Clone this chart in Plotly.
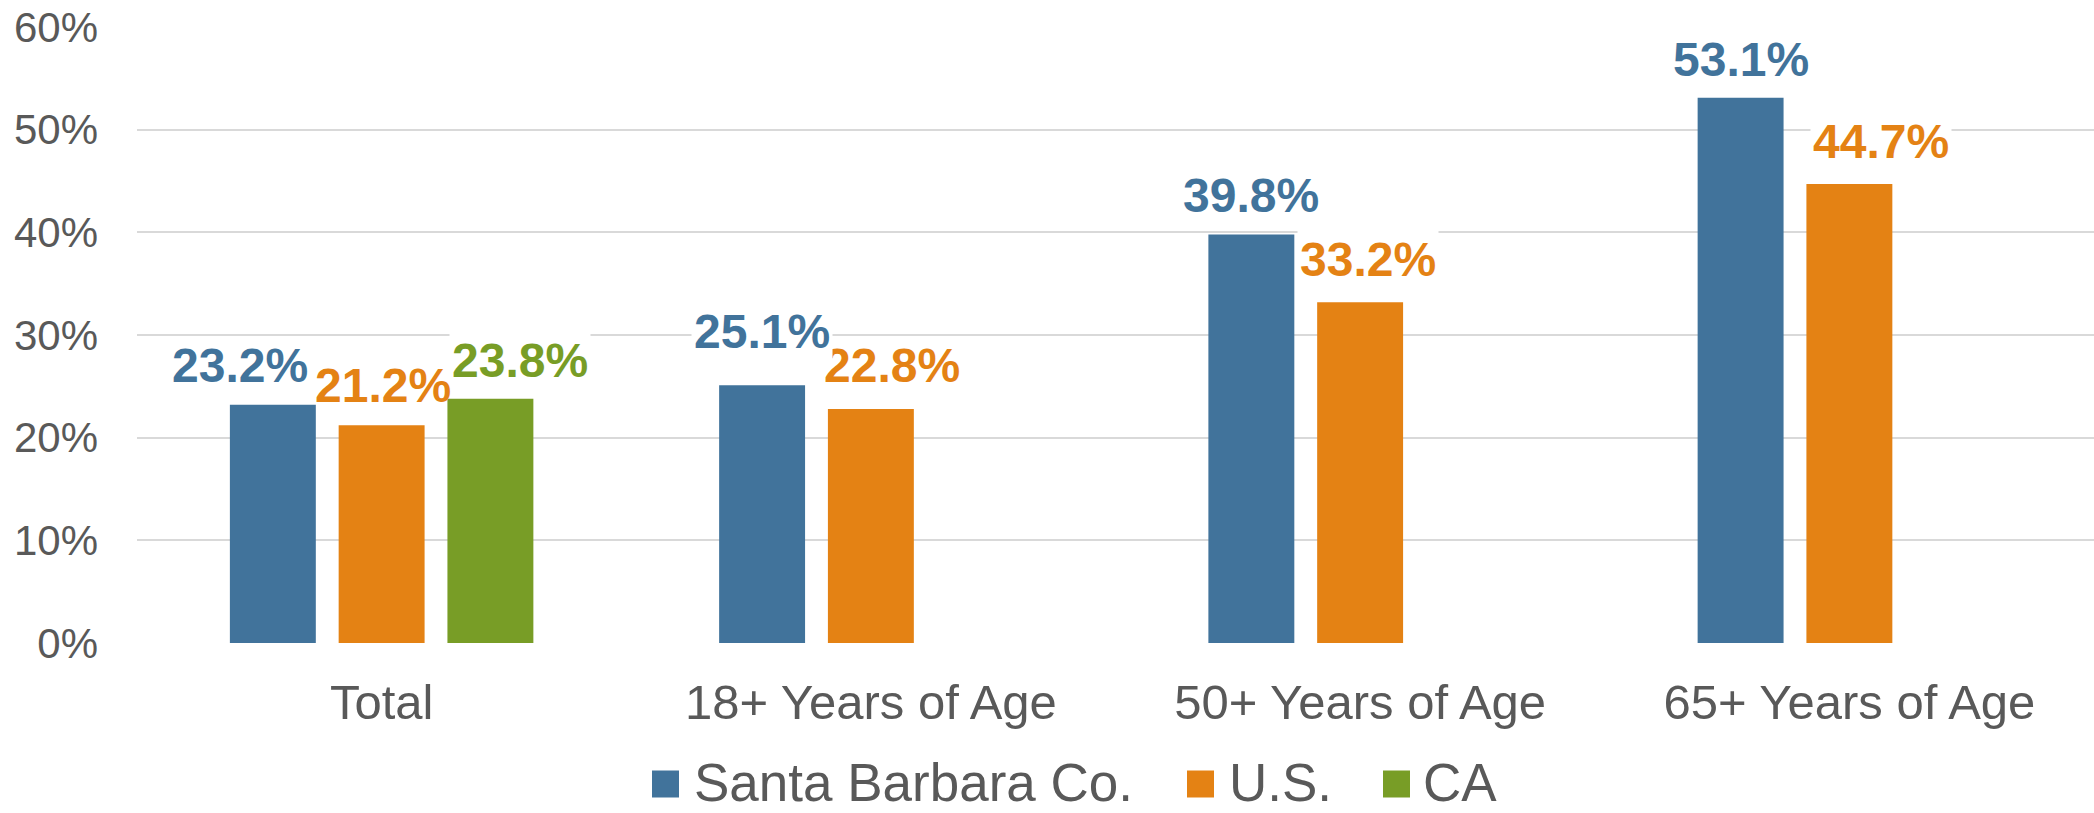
import plotly.graph_objects as go

# ---------------- data ----------------
categories = ["Total", "18+ Years of Age", "50+ Years of Age", "65+ Years of Age"]
series_names = ["Santa Barbara Co.", "U.S.", "CA"]
santa_barbara = [23.2, 25.1, 39.8, 53.1]
us_values = [21.2, 22.8, 33.2, 44.7]
ca_values = [23.8, None, None, None]
y_ticks = [0, 10, 20, 30, 40, 50, 60]

# ---------------- style ----------------
W, H = 2094, 813
M_L, M_R, M_T, M_B = 137, 0, 27, 170
colors = ["#41739B", "#E48214", "#789D26"]
grey = "#595959"
font_family = "Arial, Liberation Sans, sans-serif"
BARGAP, GROUPGAP = 0.333, 0.21

# label offsets (pixels): horizontal shift from bar centre, gap of baseline above bar top
label_dx = [[-33, 1, 30], [0, 21, 0], [0, 8, 0], [0, 32, 0]]
label_gap = [[22, 23, 21], [36, 26, 0], [22, 25, 0], [21, 25, 0]]
# whether a label carries a white box behind it
label_box = [[True, False, True], [True, True, True], [True, True, True], [True, True, True]]

series_values = [santa_barbara, us_values, ca_values]

fig = go.Figure()
for name, vals, col in zip(series_names, series_values, colors):
    fig.add_trace(go.Bar(x=categories, y=vals, name=name, marker=dict(color=col, line=dict(width=0)),
                         showlegend=False, hoverinfo="x+y"))

plot_w = W - M_L - M_R
plot_h = H - M_T - M_B
cat_w = plot_w / len(categories)
pitch = cat_w * (1 - BARGAP) / len(series_names)

LFS = 48
PAD = 2
descent = 0.212 * LFS
annotations = []
# draw later series first so the first series' labels sit on top
for si in reversed(range(len(series_values))):
    vals, col = series_values[si], colors[si]
    for ci, v in enumerate(vals):
        if v is None:
            continue
        annotations.append(dict(
            x=categories[ci], y=v, xref="x", yref="y",
            text=f"<b>{v:.1f}%</b>", showarrow=False,
            font=dict(family=font_family, size=LFS, color=col),
            bgcolor="white" if label_box[ci][si] else "rgba(0,0,0,0)", borderpad=PAD,
            xanchor="center", yanchor="bottom",
            xshift=(si - 1) * pitch + label_dx[ci][si],
            yshift=label_gap[ci][si] - PAD - descent,
        ))

# custom legend (large swatches)
def px_to_paper_x(px):
    return (px - M_L) / plot_w

def px_to_paper_y(py):
    return (H - M_B - py) / plot_h

legend_sq_x = [652, 1187, 1383]
legend_txt_x = [693, 1228, 1422]
legend_mid = 784
shapes = []
for name, col, sx, tx in zip(series_names, colors, legend_sq_x, legend_txt_x):
    shapes.append(dict(type="rect", xref="paper", yref="paper",
                       x0=px_to_paper_x(sx), x1=px_to_paper_x(sx + 27),
                       y0=px_to_paper_y(legend_mid + 13.5), y1=px_to_paper_y(legend_mid - 13.5),
                       fillcolor=col, line=dict(width=0), layer="above"))
    annotations.append(dict(x=px_to_paper_x(tx), y=px_to_paper_y(legend_mid - 2), xref="paper", yref="paper",
                            text=name, showarrow=False, xanchor="left", yanchor="middle",
                            font=dict(family=font_family, size=53, color=grey), borderpad=0))

fig.update_layout(
    width=W, height=H,
    margin=dict(l=M_L, r=M_R, t=M_T, b=M_B, autoexpand=False),
    paper_bgcolor="white", plot_bgcolor="white",
    barmode="group", bargap=BARGAP, bargroupgap=GROUPGAP,
    showlegend=False,
    annotations=annotations, shapes=shapes,
    font=dict(family=font_family, color=grey),
)
fig.update_yaxes(range=[0, 60], tickvals=y_ticks, ticktext=[f"{t}%" for t in y_ticks],
                 showgrid=True, gridcolor="#D9D9D9", gridwidth=1.5, zeroline=False,
                 showline=False, ticks="", ticklabelstandoff=38,
                 tickfont=dict(family=font_family, size=42, color=grey))
fig.update_xaxes(showgrid=False, showline=False, ticks="", ticklabelstandoff=26,
                 tickfont=dict(family=font_family, size=49, color=grey))

fig.write_html("out.html", config={"displayModeBar": False},
               post_script="document.body.style.margin='0';document.body.style.overflow='hidden';")
